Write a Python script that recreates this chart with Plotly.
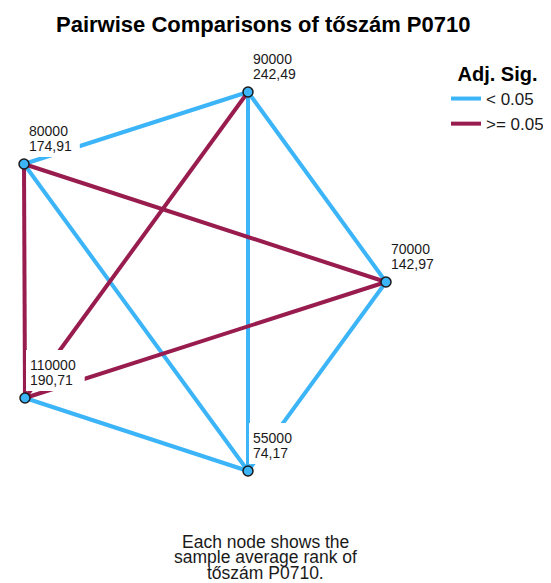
import plotly.graph_objects as go

# ---- data ----
groups = ["90000", "80000", "70000", "110000", "55000"]
mean_ranks = ["242,49", "174,91", "142,97", "190,71", "74,17"]
sig_pairs = [("80000", "90000"), ("90000", "55000"), ("90000", "70000"),
             ("80000", "55000"), ("70000", "55000"), ("110000", "55000")]
nonsig_pairs = [("90000", "110000"), ("80000", "70000"),
                ("80000", "110000"), ("70000", "110000")]
legend_labels = ["< 0.05", ">= 0.05"]
title_text = "Pairwise Comparisons of tőszám P0710"
footnote_lines = ["Each node shows the", "sample average rank of", "tőszám P0710."]

# ---- layout (node placement in page-pixel space) ----
node_pos = {"90000": (248, 92), "80000": (24, 164), "70000": (386, 282),
            "110000": (25, 398), "55000": (248, 471)}

BLUE = "#3cb4f8"
RED = "#991c4e"
FONT = "Liberation Sans, Arial, sans-serif"
LABEL_SIZE = 14
PAGE_W, PAGE_H = 551, 583
OFF = 8  # default body margin of the html page
W, H = PAGE_W - OFF, PAGE_H - OFF


def edge_xy(pairs):
    xs, ys = [], []
    for a, b in pairs:
        xs += [node_pos[a][0], node_pos[b][0], None]
        ys += [node_pos[a][1], node_pos[b][1], None]
    return xs, ys


def text_width(s, size):
    # approximate Arial/Liberation Sans advance widths
    w = 0.0
    for ch in s:
        w += 0.278 if ch in ",." else 0.556
    return w * size


fig = go.Figure()
for pairs, color, name in [(sig_pairs, BLUE, legend_labels[0]),
                           (nonsig_pairs, RED, legend_labels[1])]:
    xs, ys = edge_xy(pairs)
    fig.add_trace(go.Scatter(x=xs, y=ys, mode="lines", name=name,
                             line=dict(color=color, width=4),
                             hoverinfo="skip"))

fig.add_trace(go.Scatter(
    x=[node_pos[g][0] for g in groups], y=[node_pos[g][1] for g in groups],
    mode="markers", showlegend=False,
    marker=dict(size=10, color=BLUE, line=dict(color="#1a1a1a", width=1.5)),
    text=groups, hoverinfo="text"))

shapes = []
annotations = []
for g, r in zip(groups, mean_ranks):
    x, y = node_pos[g]
    bw = max(text_width(g, LABEL_SIZE), text_width(r, LABEL_SIZE)) + 12
    shapes.append(dict(type="rect", xref="x", yref="y", layer="above",
                       x0=x + 1, x1=x + 1 + bw, y0=y - 7, y1=y - 48,
                       fillcolor="white", line=dict(width=0)))
    annotations.append(dict(x=x, y=y, xref="x", yref="y", text=g,
                            showarrow=False, xanchor="left", yanchor="bottom",
                            xshift=1, yshift=21, borderpad=3,
                            font=dict(family=FONT, size=LABEL_SIZE, color="#1a1a1a")))
    annotations.append(dict(x=x, y=y, xref="x", yref="y", text=r,
                            showarrow=False, xanchor="left", yanchor="bottom",
                            xshift=3, yshift=8, borderpad=1,
                            font=dict(family=FONT, size=LABEL_SIZE, color="#1a1a1a")))

annotations.append(dict(x=263, y=24, xref="x", yref="y", text="<b>%s</b>" % title_text,
                        showarrow=False, xanchor="center", yanchor="middle",
                        font=dict(family=FONT, size=22, color="black")))
for yy, line in zip([541.5, 557, 572.5], footnote_lines):
    annotations.append(dict(x=265, y=yy, xref="x", yref="y", text=line,
                            showarrow=False, xanchor="center", yanchor="middle",
                            font=dict(family=FONT, size=17.5, color="#1a1a1a")))

fig.update_layout(
    width=W, height=H, margin=dict(l=0, r=0, t=0, b=0),
    paper_bgcolor="white", plot_bgcolor="white",
    xaxis=dict(range=[OFF, PAGE_W], visible=False, fixedrange=True),
    yaxis=dict(range=[PAGE_H, OFF], visible=False, fixedrange=True),
    showlegend=True,
    legend=dict(x=(446 - OFF) / W, y=1 - (55 - OFF) / H, xanchor="left", yanchor="top",
                bgcolor="rgba(0,0,0,0)", font=dict(family=FONT, size=17, color="#1a1a1a"),
                title=dict(text="<b>Adj. Sig.</b>", side="top center",
                           font=dict(family=FONT, size=20, color="black")),
                tracegroupgap=0, itemwidth=30,
                entrywidth=100, entrywidthmode="pixels"),
    shapes=shapes,
    annotations=annotations,
)

fig.write_html("out.html")
